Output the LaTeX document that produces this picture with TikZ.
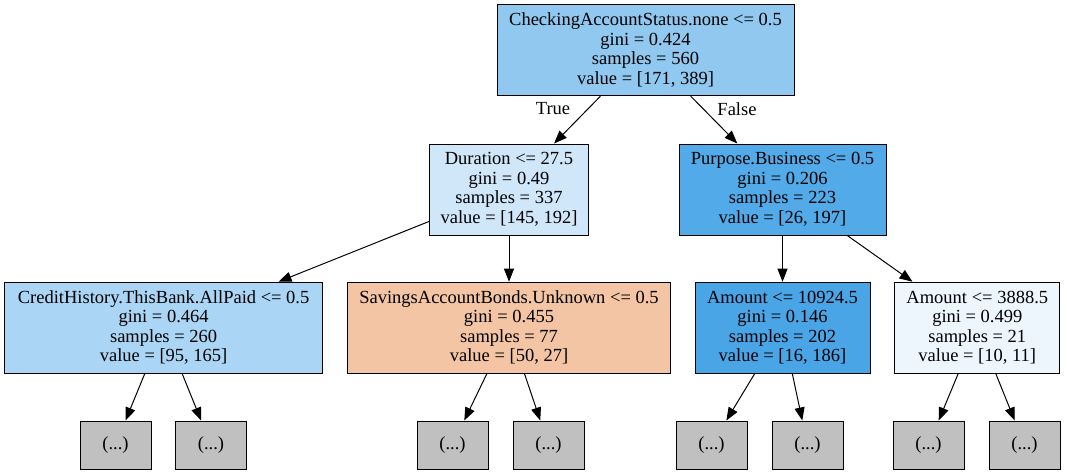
\documentclass[tikz,border=0pt]{standalone}
\usepackage{fontspec}
\setmainfont{Liberation Serif}
\usetikzlibrary{arrows.meta}
\definecolor{fillA}{RGB}{144,200,240}
\definecolor{fillB}{RGB}{207,231,249}
\definecolor{fillC}{RGB}{83,170,232}
\definecolor{fillD}{RGB}{171,213,244}
\definecolor{fillE}{RGB}{243,197,164}
\definecolor{fillF}{RGB}{74,165,231}
\definecolor{fillG}{RGB}{237,246,253}
\definecolor{cutgray}{RGB}{192,192,192}
\begin{document}
\begin{tikzpicture}[x=1pt,y=-1pt,
    split/.style={draw, line width=1pt, shape=rectangle, align=center, minimum height=91pt, inner sep=0pt, font=\fontsize{18.5}{19.5}\selectfont},
    cut/.style={draw, line width=1pt, shape=rectangle, fill=cutgray, minimum width=71pt, minimum height=48pt, inner sep=0pt, font=\fontsize{18.5}{19.5}\selectfont},
    branch/.style={font=\fontsize{18.5}{19.5}\selectfont},
    edge/.style={-{Triangle[length=13pt,width=10pt]}, line width=1pt}]
    \useasboundingbox (0,0) rectangle (1067,475);
    % split nodes
    \node[split, fill=fillA, minimum width=297pt] (TA) at (645.5,50.2) {CheckingAccountStatus.none <= 0.5\\gini = 0.424\\samples = 560\\value = [171, 389]};
    \node[split, fill=fillB, minimum width=159pt] (TB) at (509,189.5) {Duration <= 27.5\\gini = 0.49\\samples = 337\\value = [145, 192]};
    \node[split, fill=fillC, minimum width=207pt] (TC) at (782.5,189.5) {Purpose.Business <= 0.5\\gini = 0.206\\samples = 223\\value = [26, 197]};
    \node[split, fill=fillD, minimum width=318pt] (TD) at (163.6,327.7) {CreditHistory.ThisBank.AllPaid <= 0.5\\gini = 0.464\\samples = 260\\value = [95, 165]};
    \node[split, fill=fillE, minimum width=323pt] (TE) at (509,327.7) {SavingsAccountBonds.Unknown <= 0.5\\gini = 0.455\\samples = 77\\value = [50, 27]};
    \node[split, fill=fillF, minimum width=175pt] (TF) at (782.5,327.7) {Amount <= 10924.5\\gini = 0.146\\samples = 202\\value = [16, 186]};
    \node[split, fill=fillG, minimum width=165pt] (TG) at (977.3,327.7) {Amount <= 3888.5\\gini = 0.499\\samples = 21\\value = [10, 11]};
    % truncated nodes
    \node[cut] (TD1) at (115.5,445) {(...)};
    \node[cut] (TD2) at (211,445) {(...)};
    \node[cut] (TE1) at (452.5,445) {(...)};
    \node[cut] (TE2) at (548.5,445) {(...)};
    \node[cut] (TF1) at (711.5,445) {(...)};
    \node[cut] (TF2) at (807.5,445) {(...)};
    \node[cut] (TG1) at (928.5,445) {(...)};
    \node[cut] (TG2) at (1024.5,445) {(...)};
    % branch labels
    \node[branch] (LT) at (553,109) {True};
    \node[branch] (LF) at (737,109) {False};

    \draw[edge] (TA)--(TB);
    \draw[edge] (TA)--(TC);
    \draw[edge] (TB)--(TD);
    \draw[edge] (TB)--(TE);
    \draw[edge] (TC)--(TF);
    \draw[edge] (TC)--(TG);
    \draw[edge] (TD)--(TD1);
    \draw[edge] (TD)--(TD2);
    \draw[edge] (TE)--(TE1);
    \draw[edge] (TE)--(TE2);
    \draw[edge] (TF)--(TF1);
    \draw[edge] (TF)--(TF2);
    \draw[edge] (TG)--(TG1);
    \draw[edge] (TG)--(TG2);
\end{tikzpicture}
\end{document}
